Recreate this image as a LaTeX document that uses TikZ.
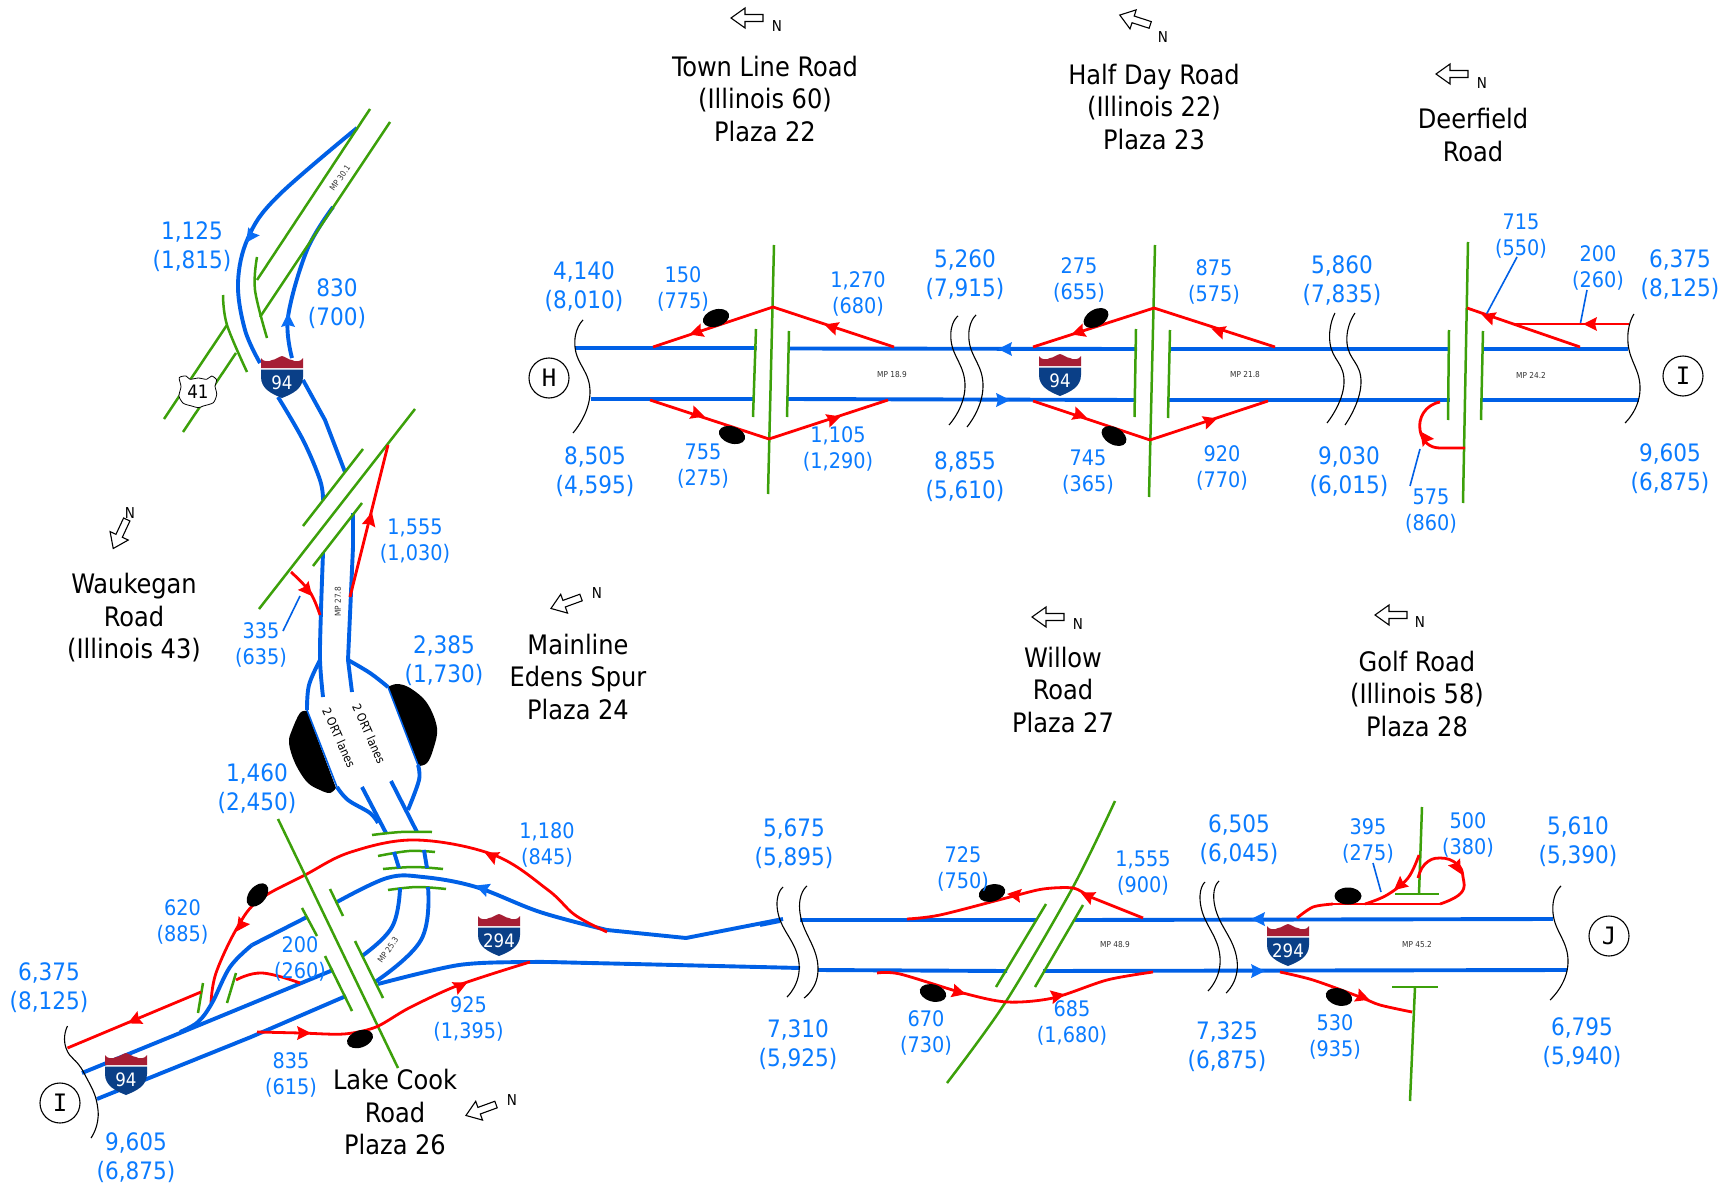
\documentclass[tikz,border=0pt]{standalone}
\usepackage{fontspec}
\setmainfont{DejaVu Sans Condensed}
\newfontfamily\lettermono{DejaVu Sans Mono}
\definecolor{roadblue}{HTML}{0060E6}
\definecolor{tipblue}{HTML}{0A6EF5}
\definecolor{textblue}{HTML}{0A7BFF}
\definecolor{roadred}{HTML}{FF0000}
\definecolor{roadgreen}{HTML}{3CA00A}
\definecolor{shieldred}{HTML}{A61E34}
\definecolor{shieldblue}{HTML}{0A3F87}
\tikzset{
  x=1pt,y=-1pt,
  bl/.style={draw=roadblue,line width=3.9pt,line join=round},
  blthin/.style={draw=roadblue,line width=1.6pt},
  rd/.style={draw=roadred,line width=2.8pt,line join=round},
  gr/.style={draw=roadgreen,line width=2.5pt},
  wv/.style={draw=black,line width=1.1pt},
  big/.style={text=textblue,align=center,inner sep=0pt,yshift=-1.5pt,font=\fontsize{24}{29}\selectfont},
  small/.style={text=textblue,align=center,inner sep=0pt,yshift=-1.5pt,font=\fontsize{21.4}{26}\selectfont},
  title/.style={text=black,align=center,inner sep=0pt,font=\fontsize{26.8}{32.5}\selectfont},
  north/.style={text=black,inner sep=0pt,font=\fontsize{15}{16}\selectfont},
  mile/.style={text=black!80,inner sep=0pt,font=\fontsize{8.2}{9}\selectfont},
  ort/.style={text=black,inner sep=0pt,font=\fontsize{12}{15}\selectfont},
  letter/.style={draw=black,circle,line width=1.1pt,minimum size=40pt,inner sep=0pt,fill=white,font=\lettermono\fontsize{24}{28}\selectfont},
  redtip/.pic={\fill[roadred] (8,0)--(-6,-7)--(-4,0)--(-6,7)--cycle;},
  bluetip/.pic={\fill[tipblue] (7,0)--(-7,-7)--(-5,0)--(-7,7)--cycle;},
  blob/.pic={\fill[black] (0,0) ellipse [x radius=13.5pt,y radius=8.5pt];},
  northarrow/.pic={\draw[black,line width=1.1pt,fill=white] (-16,0)--(-2,-10)--(-2,-3.5)--(16,-3.5)--(16,3.5)--(-2,3.5)--(-2,10)--cycle;},
  shield/.pic={
    \fill[shieldred] (-21,-9)--(-21,-19)..controls (-19,-15) and (-13,-15) .. (-10,-17)..controls (-7,-17) and (-4,-20) .. (0,-21)..controls (4,-20) and (7,-17) .. (10,-17)..controls (13,-15) and (19,-15) .. (21,-19)--(21,-9)--cycle;
    \fill[shieldblue] (-21,-7.5)--(21,-7.5)--(21,0)..controls (21,12) and (10,17) .. (0,21)..controls (-10,17) and (-21,12) .. (-21,0)--cycle;
    \node[text=white,inner sep=0pt,font=\fontsize{18.5}{20}\selectfont] at (0,5.5) {#1};
  },
}
\begin{document}
\begin{tikzpicture}
\useasboundingbox (0,0) rectangle (1730,1185);
\fill[white] (0,0) rectangle (1730,1185);

% ---------- north-west leg: US 41 / Waukegan
\draw[bl] plot[smooth,tension=0.6] coordinates {(357,128)(277,197)(248,238)(238,283)(245,330)(260,363)};
\draw[bl] plot[smooth,tension=0.6] coordinates {(333,207)(307,250)(288,317)(292,358)};
\draw[bl] plot[smooth,tension=0.6] coordinates {(278,397)(303,440)(320,480)(323,500)};
\draw[bl] (303,380)--(325,420)--(345,472);
\draw[bl] plot[smooth,tension=0.5] coordinates {(323,553)(321,610)(320,660)(323,697)};
\draw[bl] (353,513)--(353,547)--(348,660)--(352,692);
\draw[bl] plot[smooth,tension=0.6] coordinates {(320,660)(309,685)(307,710)};
\draw[bl] plot[smooth,tension=0.6] coordinates {(348,660)(370,673)(388,687)};
\fill[black] plot[smooth,tension=0.6] coordinates {(388,687)(397,684)(410,688)(427,703)(437,728)(433,750)(427,763)(419,766)} --cycle;
\fill[black] plot[smooth,tension=0.6] coordinates {(307,711)(300,713)(292,730)(289,743)(295,763)(307,782)(320,790)(330,793)(336,788)} --cycle;
\draw[blthin] (307,710)--(337,787);
\draw[blthin] (388,687)--(418,765);
\draw[bl] plot[smooth,tension=0.6] coordinates {(337,787)(348,800)(370,813)(378,823)};
\draw[bl] plot[smooth,tension=0.6] coordinates {(418,765)(419,780)(408,810)};
\draw[bl] (362,787)--(386,833);
\draw[bl] (391,781)--(417,832);

\draw[gr] (370,109)--(257,280);
\draw[gr] (390,122)--(260,317);
\draw[gr] plot[smooth,tension=0.6] coordinates {(257,257)(255,290)(267,338)};
\draw[gr] plot[smooth,tension=0.6] coordinates {(223,295)(227,325)(247,372)};
\draw[gr] (227,325)--(164,419);
\draw[gr] (236,353)--(183,432);
\draw[gr] (363,449)--(303,526);
\draw[gr] (415,409)--(259,609);
\draw[gr] (362,503)--(313,566);

\draw[rd] (350,597)--(388,445);
\draw[rd] plot[smooth,tension=0.6] coordinates {(291,572)(310,592)(320,615)};
\draw[blthin] (300,596)--(283,631);

\pic[rotate=235] at (250,237) {bluetip};
\pic[rotate=90] at (288,320) {bluetip};
\pic[rotate=76] at (370,520) {redtip};
\pic[rotate=310] at (307,590) {redtip};

\pic at (282,377) {shield=94};
\draw[black,line width=0.8pt,fill=white,shift={(198,392)}] plot[smooth cycle,tension=0.45] coordinates {(-18.7,-14.3)(-12,-16)(-8,-12.7)(0.3,-14)(8.7,-12.7)(13.7,-16)(18.7,-12)(17,-6)(18.7,2.3)(15.3,10.7)(5.3,14)(0.3,15.7)(-6.3,14)(-14.7,11.3)(-19,4)(-17,-5.3)};
\node[inner sep=0pt,font=\fontsize{18.5}{20}\selectfont] (us41) at (198,392) {41};

\node[mile,rotate=55] (mp301) at (340,178) {MP 30.1};
\node[mile,rotate=90] (mp278) at (338,602) {MP 27.8};
\node[ort,rotate=-66] (ortone) at (339,738) {2 ORT lanes};
\node[ort,rotate=-66] (orttwo) at (369,734) {2 ORT lanes};

% ---------- Lake Cook interchange
\draw[gr] plot[smooth,tension=0.6] coordinates {(372,835)(401,832)(432,832)};
\draw[gr] plot[smooth,tension=0.6] coordinates {(378,856)(409,851)(435,852)};
\draw[gr] plot[smooth,tension=0.6] coordinates {(383,869)(414,867)(443,869)};
\draw[gr] plot[smooth,tension=0.6] coordinates {(388,890)(417,887)(446,889)};
\draw[bl] (394,852)--(399,868);
\draw[bl] (424,850)--(427,868);
\draw[bl] plot[smooth,tension=0.7] coordinates {(400,888)(392,927)(362,956)};
\draw[bl] plot[smooth,tension=0.7] coordinates {(428,887)(421,940)(375,982)};
\draw[bl] plot[smooth,tension=0.6] coordinates {(337,902)(387,878)(423,877)(476,887)(540,912)(607,930)};
\draw[bl] (607,930)--(686,938)--(783,919);
\draw[bl] plot[smooth,tension=0.5] coordinates {(378,984)(459,965)(530,962)(590,963)(800,968)};
\draw[rd] plot[smooth,tension=0.6] coordinates {(607,932)(575,915)(548,890)(494,855)(416,840)(351,852)(305,875)(259,900)(237,928)(216,973)(211,1003)};
\draw[bl] (307,917)--(252,945);
\draw[bl] plot[smooth,tension=0.6] coordinates {(252,945)(230,967)(212,1003)(198,1022)(180,1032)};
\draw[bl] (333,970)--(180,1033)--(82,1073);
\draw[bl] (346,996)--(251,1037)--(97,1099);
\draw[gr] (278,819)--(398,1068);
\draw[gr] (330,889)--(343,916);
\draw[gr] (302,908)--(317,936);
\draw[gr] (325,956)--(352,1011);
\draw[gr] (355,941)--(383,998);
\draw[gr] (203,983)--(198,1013);
\draw[gr] (236,973)--(227,1003);
\draw[rd] (201,992)--(67.5,1048);
\draw[rd] plot[smooth,tension=0.7] coordinates {(236,980)(262,973)(300,983)};
\draw[rd] plot[smooth,tension=0.5] coordinates {(257,1032)(301,1033)(344,1034)(376,1027)(409,1008)(459,985)(530,962)};
\pic[rotate=155] at (492,856) {redtip};
\pic[rotate=235] at (241,925) {redtip};
\pic[rotate=160] at (482,888) {bluetip};
\pic[rotate=205] at (135,1020) {redtip};
\pic[rotate=0] at (303,1033) {redtip};
\pic[rotate=25] at (460,986) {redtip};
\pic[rotate=50] at (257.5,895) {blob};
\pic[rotate=20] at (360,1039) {blob};
\pic at (499,935) {shield=294};
\pic at (126,1074) {shield=94};
\draw[wv] plot[smooth,tension=0.9] coordinates {(67.5,1026)(66,1048)(84,1073)(98,1110)(91,1138)};
\node[letter] (circI) at (60,1103) {I};
\node[mile,rotate=55] (mp253) at (388,950) {MP 25.3};

% ---------- top band: Town Line, Half Day, Deerfield
\draw[bl] (575,348)--(757,348);
\draw[bl] (788,348.5)--(1137,349);
\draw[bl] (591,399)--(755,399);
\draw[bl] (787,399)--(1135,400);
\draw[bl] (1168.5,349)--(1450,349);
\draw[bl] (1168,400)--(1450,400);
\draw[bl] (1482,349)--(1628,349);
\draw[bl] (1480,400)--(1639,400);
\draw[gr] (774,245)--(768,494);
\draw[gr] (756,329)--(753,417);
\draw[gr] (789,331)--(787,417);
\draw[gr] (1155,245)--(1149,497);
\draw[gr] (1136,329)--(1134.5,417);
\draw[gr] (1170,330)--(1168,418);
\draw[gr] (1468,242)--(1463,503);
\draw[gr] (1449,330)--(1448,420);
\draw[gr] (1483,331)--(1481,420);
\draw[rd] (653,347)--(773,307)--(894,347);
\draw[rd] (650,400)--(769,439)--(888,400);
\draw[rd] (1033,347)--(1154,308)--(1275,347);
\draw[rd] (1033,401)--(1150,440)--(1268,401);
\draw[rd] (1467,308)--(1580,347);
\draw[rd] (1628.5,324)--(1512,324);
\draw[rd] (1440,402)..controls (1425,405) and (1418,418) .. (1420,430)..controls (1422,442) and (1430,448) .. (1440,448)--(1465,448);
\draw[blthin] (1517,257)--(1486,315);
\draw[blthin] (1587,290)--(1580.5,323);
\draw[blthin] (1420,449)--(1410,486);
\foreach \px/\py/\pa in {697/332/198,832/327/162,697/414/342,833/419/18,1079/332/198,1219/331/162,1079/415/342,1209.5/421/18,1489/317/161,1591/324/180,1425/438/125}{
  \pic[rotate=\pa] at (\px,\py) {redtip};
}
\pic[rotate=180] at (1005,349) {bluetip};
\pic[rotate=0] at (1003,400) {bluetip};
\pic[rotate=18] at (716,318) {blob};
\pic[rotate=-18] at (732,435) {blob};
\pic[rotate=30] at (1096,318) {blob};
\pic[rotate=-30] at (1114,436) {blob};
\pic at (1060,375) {shield=94};
\draw[wv] plot[smooth,tension=0.9] coordinates {(583,320)(575,347)(590,393)(573,433)};
\draw[wv] plot[smooth,tension=0.9] coordinates {(958,316)(951,340)(965,387)(949,425)};
\draw[wv] plot[smooth,tension=0.9] coordinates {(976,315)(969,340)(983,387)(967,427)};
\draw[wv] plot[smooth,tension=0.9] coordinates {(1335,313)(1330,343)(1344,383)(1327,423)};
\draw[wv] plot[smooth,tension=0.9] coordinates {(1355,313)(1347,343)(1361,383)(1345,425)};
\draw[wv] plot[smooth,tension=0.9] coordinates {(1634,314)(1628,343)(1640,390)(1625,423)};
\node[letter] (circH) at (549,378) {H};
\node[letter] (circItop) at (1683,376) {I};
\node[mile] (mp189) at (892,375) {MP 18.9};
\node[mile] (mp218) at (1245,375) {MP 21.8};
\node[mile] (mp242) at (1531,375) {MP 24.2};

% ---------- bottom band: Willow, Golf
\draw[bl] (760,925)--(780,921);
\draw[bl] (800,920)--(1037,920);
\draw[bl] (1075,920)--(1553,919);
\draw[bl] (818,970)--(1007,971);
\draw[bl] (1043,971)--(1567,970);
\draw[gr] plot[smooth,tension=0.5] coordinates {(1115,801)(1073,887)(1005,1003)(947,1083)};
\draw[gr] (1046,904)--(996,987);
\draw[gr] (1083,905)--(1035,987);
\draw[gr] (1422,807)--(1419,894);
\draw[gr] (1395,894)--(1439,894);
\draw[gr] (1392,987)--(1438,987);
\draw[gr] (1415,987)--(1410,1101);
\draw[rd] plot[smooth,tension=0.5] coordinates {(907,919)(940,915)(1010,897)(1043,889)(1073,888)(1088,896)};
\draw[rd] (1088,896)--(1143,918);
\draw[rd] plot[smooth,tension=0.5] coordinates {(877,973)(900,974)(963,993)(1007,1002)(1053,998)(1107,980)(1153,972)};
\draw[rd] plot[smooth,tension=0.5] coordinates {(1297,918)(1313,907)(1333,904)};
\draw[rd] (1333,904)--(1440,904);
\draw[rd] plot[smooth,tension=0.8] coordinates {(1440,904)(1461,893)(1463,877)(1457,864)(1440,858)(1425,864)(1418,878)};
\draw[rd] plot[smooth,tension=0.6] coordinates {(1419,855)(1408,878)(1387,895)(1365,904)};
\draw[rd] plot[smooth,tension=0.5] coordinates {(1280,972)(1313,980)(1360,997)(1380,1005)(1412,1012)};
\draw[blthin] (1373,863)--(1381,892);
\foreach \px/\py/\pa in {1088/896/155,1015/895/172,958/992/345,1057/996/12,1457/867/300,1400/885/220,1362/997/340}{
  \pic[rotate=\pa] at (\px,\py) {redtip};
}
\pic[rotate=180] at (1258,919) {bluetip};
\pic[rotate=0] at (1258,971) {bluetip};
\pic[rotate=15] at (992,893) {blob};
\pic[rotate=-15] at (933,993) {blob};
\pic[rotate=0] at (1348,896) {blob};
\pic[rotate=-15] at (1339,997) {blob};
\pic at (1288,945) {shield=294};
\draw[wv] plot[smooth,tension=0.9] coordinates {(783,887)(778,913)(799,963)(787,997)};
\draw[wv] plot[smooth,tension=0.9] coordinates {(807,886)(800,913)(818,967)(804,998)};
\draw[wv] plot[smooth,tension=0.9] coordinates {(1205,882)(1201,907)(1220,957)(1208,991)};
\draw[wv] plot[smooth,tension=0.9] coordinates {(1219,881)(1215,907)(1237,960)(1226,993)};
\draw[wv] plot[smooth,tension=0.9] coordinates {(1561,886)(1553,913)(1568,963)(1550,1000)};
\node[letter] (circJ) at (1609,936) {J};
\node[mile] (mp489) at (1115,945) {MP 48.9};
\node[mile] (mp452) at (1417,945) {MP 45.2};

% ---------- north arrows
\pic at (747,18) {northarrow};
\pic[rotate=-18] at (1135,20) {northarrow};
\pic at (1452,74) {northarrow};
\pic[rotate=65] at (120,534) {northarrow};
\pic[rotate=20] at (566,603) {northarrow};
\pic at (1048,617) {northarrow};
\pic at (1391,615) {northarrow};
\pic[rotate=20] at (481,1110) {northarrow};
\node[north] (n1) at (777,26) {N};
\node[north] (n2) at (1163,37) {N};
\node[north] (n3) at (1482,83) {N};
\node[north] (n4) at (130,513) {N};
\node[north] (n5) at (597,593) {N};
\node[north] (n6) at (1078,624) {N};
\node[north] (n7) at (1420,622) {N};
\node[north] (n8) at (512,1100) {N};

% ---------- titles
\node[title] (t1) at (765,99) {Town Line Road\\(Illinois 60)\\Plaza 22};
\node[title] (t2) at (1154,107) {Half Day Road\\(Illinois 22)\\Plaza 23};
\node[title] (t3) at (1473,135) {Deerfield\\Road};
\node[title] (t4) at (134,618) {Waukegan\\Road\\(Illinois 43)};
\node[title] (t5) at (578,677) {Mainline\\Edens Spur\\Plaza 24};
\node[title] (t6) at (1063,690) {Willow\\Road\\Plaza 27};
\node[title] (t7) at (1417,694) {Golf Road\\(Illinois 58)\\Plaza 28};
\node[title] (t8) at (395,1112) {Lake Cook\\Road\\Plaza 26};

% ---------- volumes
\node[big] (v1) at (192,245) {1,125\\(1,815)};
\node[big] (v2) at (337,302) {830\\(700)};
\node[small] (v3) at (415,540) {1,555\\(1,030)};
\node[small] (v4) at (261,643) {335\\(635)};
\node[big] (v5) at (444,659) {2,385\\(1,730)};
\node[big] (v6) at (257,787) {1,460\\(2,450)};
\node[small] (v7) at (547,843) {1,180\\(845)};
\node[small] (v8) at (182.5,920) {620\\(885)};
\node[big] (v9) at (49,986) {6,375\\(8,125)};
\node[small] (v10) at (300,957) {200\\(260)};
\node[small] (v11) at (291,1073) {835\\(615)};
\node[small] (v12) at (468.5,1017) {925\\(1,395)};
\node[big] (v13) at (136,1156) {9,605\\(6,875)};
\node[big] (v14) at (584,285) {4,140\\(8,010)};
\node[small] (v15) at (683,287) {150\\(775)};
\node[small] (v16) at (858,292) {1,270\\(680)};
\node[big] (v17) at (965,273) {5,260\\(7,915)};
\node[big] (v18) at (595,470) {8,505\\(4,595)};
\node[small] (v19) at (703,465) {755\\(275)};
\node[small] (v20) at (838,447) {1,105\\(1,290)};
\node[big] (v21) at (965,475) {8,855\\(5,610)};
\node[small] (v22) at (1079,278) {275\\(655)};
\node[small] (v23) at (1214,280) {875\\(575)};
\node[big] (v24) at (1342,279) {5,860\\(7,835)};
\node[small] (v25) at (1521,235) {715\\(550)};
\node[small] (v26) at (1598,266) {200\\(260)};
\node[big] (v27) at (1680,273) {6,375\\(8,125)};
\node[small] (v28) at (1088,471) {745\\(365)};
\node[small] (v29) at (1222,466) {920\\(770)};
\node[big] (v30) at (1349,470) {9,030\\(6,015)};
\node[small] (v31) at (1431,510) {575\\(860)};
\node[big] (v32) at (1670,467) {9,605\\(6,875)};
\node[big] (v33) at (794,842) {5,675\\(5,895)};
\node[small] (v34) at (963,867) {725\\(750)};
\node[small] (v35) at (1143,872) {1,555\\(900)};
\node[big] (v36) at (798,1043) {7,310\\(5,925)};
\node[small] (v37) at (926,1031) {670\\(730)};
\node[small] (v38) at (1072,1021) {685\\(1,680)};
\node[big] (v39) at (1239,838) {6,505\\(6,045)};
\node[small] (v40) at (1368,839) {395\\(275)};
\node[small] (v41) at (1468,833) {500\\(380)};
\node[big] (v42) at (1578,840) {5,610\\(5,390)};
\node[big] (v43) at (1227,1045) {7,325\\(6,875)};
\node[small] (v44) at (1335,1035) {530\\(935)};
\node[big] (v45) at (1582,1041) {6,795\\(5,940)};
\end{tikzpicture}
\end{document}
